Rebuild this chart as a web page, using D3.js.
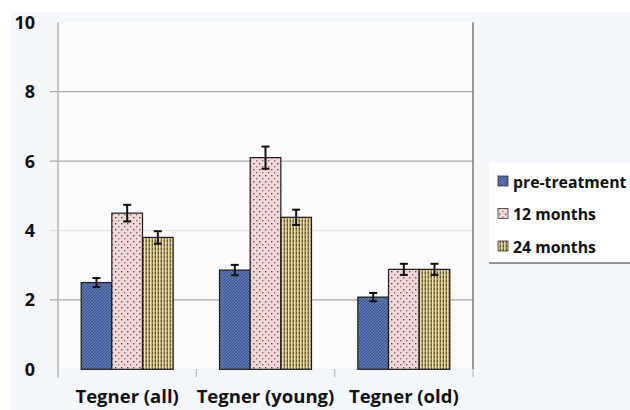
<!DOCTYPE html>
<html lang="en">
  <head>
    <meta charset="UTF-8" />
    <title>Tegner scores</title>
    <script src="https://cdn.jsdelivr.net/npm/d3@7"></script>
    <style>
      body { margin: 0; background: #ffffff; }
      text { font-family: "Open Sans", "Noto Sans", sans-serif; font-weight: bold; fill: #111; }
    </style>
  </head>
  <body>
    <svg id="chart" width="630" height="410"></svg>
    <script>
      // data
      var categories = ["Tegner (all)", "Tegner (young)", "Tegner (old)"];
      var series = ["pre-treatment", "12 months", "24 months"];
      var preTreatment = [2.5, 2.86, 2.08];
      var months12 = [4.5, 6.1, 2.88];
      var months24 = [3.8, 4.38, 2.88];
      var errPre = [0.13, 0.15, 0.12];
      var err12 = [0.24, 0.32, 0.16];
      var err24 = [0.18, 0.22, 0.16];
      var yTicks = [0, 2, 4, 6, 8, 10];

      var values = [preTreatment, months12, months24];
      var errors = [errPre, err12, err24];

      var svg = d3.select("#chart");
      var plot = { left: 58, right: 473, top: 22.3, bottom: 369.3 };

      // outer background
      svg.append("rect").attr("x", 11).attr("y", 12).attr("width", 619).attr("height", 398)
        .attr("fill", "#f4f7fc");
      svg.append("rect").attr("x", plot.left).attr("y", plot.top)
        .attr("width", plot.right - plot.left).attr("height", plot.bottom - plot.top)
        .attr("fill", "#fcfcfd");

      // patterns
      var defs = svg.append("defs");
      var pBlue = defs.append("pattern").attr("id", "pat0").attr("patternUnits", "userSpaceOnUse")
        .attr("width", 3).attr("height", 3);
      pBlue.append("rect").attr("width", 3).attr("height", 3).attr("fill", "#7a95ca");
      pBlue.append("path").attr("d", "M-1,1 L1,-1 M0,3 L3,0 M2,4 L4,2")
        .attr("stroke", "#36538d").attr("stroke-width", 1.3);

      var pPink = defs.append("pattern").attr("id", "pat1").attr("patternUnits", "userSpaceOnUse")
        .attr("width", 6).attr("height", 6);
      pPink.append("rect").attr("width", 6).attr("height", 6).attr("fill", "#f3d8d8");
      pPink.append("rect").attr("x", 1).attr("y", 1).attr("width", 1.4).attr("height", 1.4).attr("fill", "#5a4448");
      pPink.append("rect").attr("x", 4).attr("y", 4).attr("width", 1.4).attr("height", 1.4).attr("fill", "#8a6a70");

      var pYel = defs.append("pattern").attr("id", "pat2").attr("patternUnits", "userSpaceOnUse")
        .attr("width", 3).attr("height", 4);
      pYel.append("rect").attr("width", 3).attr("height", 4).attr("fill", "#ecdca0");
      pYel.append("rect").attr("x", 1.6).attr("y", 0).attr("width", 1.4).attr("height", 2).attr("fill", "#5a5136");
      pYel.append("rect").attr("x", 1.6).attr("y", 2).attr("width", 1.4).attr("height", 2).attr("fill", "#8f8158");

      var fills = ["url(#pat0)", "url(#pat1)", "url(#pat2)"];

      // scales
      var y = d3.scaleLinear().domain([0, 10]).range([plot.bottom, plot.top]);
      var x0 = d3.scaleBand().domain(categories).range([plot.left, plot.right])
        .paddingInner(0.335).paddingOuter(0.1675);
      var x1 = d3.scaleBand().domain(series).range([0, x0.bandwidth()]);

      // gridlines
      svg.append("g").selectAll("line").data(yTicks.filter(function(d) { return d > 0 && d < 10; }))
        .enter().append("line")
        .attr("x1", plot.left - 8).attr("x2", plot.right)
        .attr("y1", function(d) { return y(d); }).attr("y2", function(d) { return y(d); })
        .attr("stroke", function(d) { return d === 4 ? "#e6e6e6" : "#a8a8a8"; })
        .attr("stroke-width", 1.3);

      // y axis line and right border
      svg.append("line").attr("x1", plot.left).attr("x2", plot.left)
        .attr("y1", plot.top).attr("y2", plot.bottom + 8)
        .attr("stroke", "#b4b4b4").attr("stroke-width", 1.5);
      svg.append("line").attr("x1", plot.right).attr("x2", plot.right)
        .attr("y1", plot.top).attr("y2", plot.bottom)
        .attr("stroke", "#666").attr("stroke-width", 1.3);

      // x axis (pale) and category ticks
      svg.append("line").attr("x1", plot.left).attr("x2", plot.right)
        .attr("y1", plot.bottom).attr("y2", plot.bottom)
        .attr("stroke", "#eeeeee").attr("stroke-width", 1);
      var step = x0.step();
      svg.append("g").selectAll("line").data(d3.range(categories.length + 1))
        .enter().append("line")
        .attr("x1", function(i) { return plot.left + i * step; })
        .attr("x2", function(i) { return plot.left + i * step; })
        .attr("y1", plot.bottom).attr("y2", plot.bottom + 8)
        .attr("stroke", "#c4c4c4").attr("stroke-width", 1.3);

      // y tick labels
      svg.append("g").selectAll("text").data(yTicks).enter().append("text")
        .attr("x", 35).attr("y", function(d) { return y(d); })
        .attr("dy", "0.36em").attr("text-anchor", "end")
        .attr("font-size", 18).text(function(d) { return d; });

      // bars
      var groups = svg.append("g").selectAll("g").data(series).enter().append("g");
      groups.each(function(s, si) {
        var g = d3.select(this);
        g.selectAll("rect").data(categories).enter().append("rect")
          .attr("x", function(c) { return x0(c) + x1(s); })
          .attr("y", function(c, ci) { return y(values[si][ci]); })
          .attr("width", x1.bandwidth())
          .attr("height", function(c, ci) { return y(0) - y(values[si][ci]); })
          .attr("fill", fills[si])
          .attr("stroke", "#1a1a1a").attr("stroke-width", 1.2);
      });

      // error bars
      groups.each(function(s, si) {
        var g = d3.select(this);
        categories.forEach(function(c, ci) {
          var cx = x0(c) + x1(s) + x1.bandwidth() / 2;
          var v = values[si][ci], e = errors[si][ci];
          g.append("line").attr("x1", cx).attr("x2", cx)
            .attr("y1", y(v + e)).attr("y2", y(v - e))
            .attr("stroke", "#111").attr("stroke-width", 2);
          [v + e, v - e].forEach(function(t) {
            g.append("line").attr("x1", cx - 4).attr("x2", cx + 4)
              .attr("y1", y(t)).attr("y2", y(t))
              .attr("stroke", "#111").attr("stroke-width", 2);
          });
        });
      });

      // category labels
      svg.append("g").selectAll("text").data(categories).enter().append("text")
        .attr("x", function(c) { return x0(c) + x0.bandwidth() / 2; })
        .attr("y", 403).attr("text-anchor", "middle")
        .attr("font-size", 18.5).text(function(c) { return c; });

      // legend
      var legend = svg.append("g");
      legend.append("rect").attr("x", 489).attr("y", 163).attr("width", 141).attr("height", 100)
        .attr("fill", "#ffffff");
      legend.append("line").attr("x1", 489).attr("x2", 630).attr("y1", 263).attr("y2", 263)
        .attr("stroke", "#333").attr("stroke-width", 1.2);
      var items = legend.selectAll("g.item").data(series).enter().append("g")
        .attr("transform", function(d, i) { return "translate(0," + (i * 32.5) + ")"; });
      items.append("rect").attr("x", 498).attr("y", 176).attr("width", 10).attr("height", 10)
        .attr("fill", function(d, i) { return fills[i]; })
        .attr("stroke", "#333").attr("stroke-width", 0.8);
      items.append("text").attr("x", 513).attr("y", 187.5)
        .attr("font-size", 15.8).text(function(d) { return d; });
    </script>
  </body>
</html>
